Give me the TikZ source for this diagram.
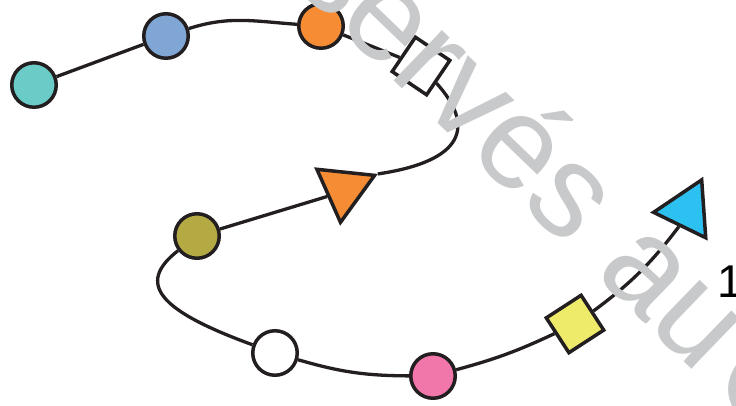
\documentclass[tikz,border=0pt]{standalone}
\usepackage{fontspec}
\setmainfont{Liberation Sans}
\usetikzlibrary{shapes.geometric}
\definecolor{acqua}{HTML}{6BCBC7}
\definecolor{celeste}{HTML}{80A6D5}
\definecolor{arancio}{HTML}{F68D35}
\definecolor{oliva}{HTML}{B3AA44}
\definecolor{rosa}{HTML}{F177AA}
\definecolor{giallo}{HTML}{EEEB6B}
\definecolor{azzurro}{HTML}{2DC1F1}
\definecolor{grigio}{HTML}{C8C9CA}
\definecolor{nero}{HTML}{231F20}

\begin{document}
\begin{tikzpicture}[x=1pt,y=1pt,
   res/.style={circle,draw=nero,line width=3.5pt,minimum size=44.5pt,inner sep=0pt},
   quad/.style={rectangle,draw=nero,line width=3.5pt,minimum size=41.5pt,inner sep=0pt},
   tri/.style={regular polygon,regular polygon sides=3,draw=nero,line width=3.5pt,
      minimum size=67pt,inner sep=0pt},
   legame/.style={draw=nero,line width=3.3pt}]
\clip (0,0) rectangle (736,406);
% catena superiore
   \node[res,fill=acqua] (c1) at (34,321) {};
   \node[res,fill=celeste] (c2) at (166,370) {};
   \node[res,fill=arancio] (c3) at (321,380) {};
   \node[quad,fill=white,rotate=-34] (q1) at (421,340) {};
   \node[tri,fill=arancio,rotate=-66] (t1) at (344,217) {};
% catena inferiore
   \node[res,fill=oliva] (c4) at (197,170) {};
   \node[res,fill=white] (c5) at (275,53) {};
   \node[res,fill=rosa] (c6) at (433,30) {};
   \node[quad,fill=giallo,rotate=33] (q2) at (575,82) {};
   \node[tri,fill=azzurro,rotate=-26] (t2) at (687,196) {};
% legami
   \draw[legame] (c1) -- (c2); \draw[legame] (c2) to[out=18,in=176] (c3);
   \draw[legame] (c3) -- (q1);
   \draw[legame] (q1) .. controls (475,280) and (465,245) .. (t1.corner 1);
   \draw[legame] (t1.side 2) -- (c4);
   \draw[legame] (c4) .. controls (135,122) and (160,95) .. (c5);
   \draw[legame] (c5) to[bend right=8] (c6); \draw[legame] (c6) to[bend
   right=5] (q2); \draw[legame] (q2) to[bend right=8] (t2.side 2);
% etichetta e filigrana
   \node[anchor=base west,inner sep=0pt,font=\fontsize{46}{46}\selectfont]
   (n1) at (717,108) {1};
   \node[anchor=base west,inner sep=0pt,rotate=-44,text=grigio,
   font=\fontsize{132}{132}\selectfont] (wm) at (287,428) {servés au\hspace{-24pt} C};
\end{tikzpicture}
\end{document}
